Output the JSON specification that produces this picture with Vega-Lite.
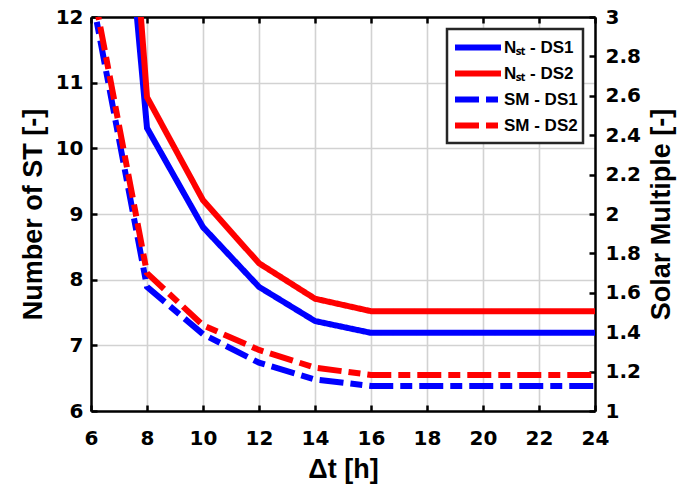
{
  "$schema": "https://vega.github.io/schema/vega-lite/v6.json",
  "width": 504,
  "height": 394,
  "autosize": "none",
  "padding": {"left": 91, "top": 17, "right": 84, "bottom": 76},
  "background": "white",
  "data": {
    "values": [
      {"t": 6, "kind": "N", "series": "Nₛₜ - DS1", "v": 19.7},
      {"t": 8, "kind": "N", "series": "Nₛₜ - DS1", "v": 10.31},
      {"t": 10, "kind": "N", "series": "Nₛₜ - DS1", "v": 8.8},
      {"t": 12, "kind": "N", "series": "Nₛₜ - DS1", "v": 7.89},
      {"t": 14, "kind": "N", "series": "Nₛₜ - DS1", "v": 7.37},
      {"t": 16, "kind": "N", "series": "Nₛₜ - DS1", "v": 7.19},
      {"t": 18, "kind": "N", "series": "Nₛₜ - DS1", "v": 7.19},
      {"t": 20, "kind": "N", "series": "Nₛₜ - DS1", "v": 7.19},
      {"t": 22, "kind": "N", "series": "Nₛₜ - DS1", "v": 7.19},
      {"t": 24, "kind": "N", "series": "Nₛₜ - DS1", "v": 7.19},
      {"t": 6, "kind": "N", "series": "Nₛₜ - DS2", "v": 22.0},
      {"t": 8, "kind": "N", "series": "Nₛₜ - DS2", "v": 10.78},
      {"t": 10, "kind": "N", "series": "Nₛₜ - DS2", "v": 9.21},
      {"t": 12, "kind": "N", "series": "Nₛₜ - DS2", "v": 8.25},
      {"t": 14, "kind": "N", "series": "Nₛₜ - DS2", "v": 7.71},
      {"t": 16, "kind": "N", "series": "Nₛₜ - DS2", "v": 7.52},
      {"t": 18, "kind": "N", "series": "Nₛₜ - DS2", "v": 7.52},
      {"t": 20, "kind": "N", "series": "Nₛₜ - DS2", "v": 7.52},
      {"t": 22, "kind": "N", "series": "Nₛₜ - DS2", "v": 7.52},
      {"t": 24, "kind": "N", "series": "Nₛₜ - DS2", "v": 7.52},
      {"t": 6, "kind": "SM", "series": "SM - DS1", "v": 3.13},
      {"t": 8, "kind": "SM", "series": "SM - DS1", "v": 1.63},
      {"t": 10, "kind": "SM", "series": "SM - DS1", "v": 1.39},
      {"t": 12, "kind": "SM", "series": "SM - DS1", "v": 1.245},
      {"t": 14, "kind": "SM", "series": "SM - DS1", "v": 1.16},
      {"t": 16, "kind": "SM", "series": "SM - DS1", "v": 1.127},
      {"t": 18, "kind": "SM", "series": "SM - DS1", "v": 1.127},
      {"t": 20, "kind": "SM", "series": "SM - DS1", "v": 1.127},
      {"t": 22, "kind": "SM", "series": "SM - DS1", "v": 1.127},
      {"t": 24, "kind": "SM", "series": "SM - DS1", "v": 1.127},
      {"t": 6, "kind": "SM", "series": "SM - DS2", "v": 3.2},
      {"t": 8, "kind": "SM", "series": "SM - DS2", "v": 1.70},
      {"t": 10, "kind": "SM", "series": "SM - DS2", "v": 1.435},
      {"t": 12, "kind": "SM", "series": "SM - DS2", "v": 1.31},
      {"t": 14, "kind": "SM", "series": "SM - DS2", "v": 1.22},
      {"t": 16, "kind": "SM", "series": "SM - DS2", "v": 1.183},
      {"t": 18, "kind": "SM", "series": "SM - DS2", "v": 1.183},
      {"t": 20, "kind": "SM", "series": "SM - DS2", "v": 1.183},
      {"t": 22, "kind": "SM", "series": "SM - DS2", "v": 1.183},
      {"t": 24, "kind": "SM", "series": "SM - DS2", "v": 1.183}
    ]
  },
  "layer": [
    {
      "transform": [{"filter": "datum.kind === 'N'"}],
      "mark": {"type": "line", "clip": true, "strokeWidth": 6},
      "encoding": {
        "x": {
          "field": "t", "type": "quantitative",
          "scale": {"domain": [6, 24], "nice": false, "zero": false},
          "axis": {"orient": "bottom", "values": [6, 8, 10, 12, 14, 16, 18, 20, 22, 24], "title": "Δt [h]", "grid": true, "labelPadding": 23, "titlePadding": 8}
        },
        "y": {
          "field": "v", "type": "quantitative",
          "scale": {"domain": [6, 12], "nice": false, "zero": false},
          "axis": {"orient": "left", "values": [6, 7, 8, 9, 10, 11, 12], "title": "Number of ST [-]", "grid": true, "labelPadding": 14, "titlePadding": 8}
        },
        "color": {
          "field": "series", "type": "nominal",
          "scale": {"domain": ["Nₛₜ - DS1", "Nₛₜ - DS2", "SM - DS1", "SM - DS2"], "range": ["#0000ff", "#ff0000", "#0000ff", "#ff0000"]}
        },
        "strokeDash": {
          "field": "series", "type": "nominal",
          "scale": {"domain": ["Nₛₜ - DS1", "Nₛₜ - DS2", "SM - DS1", "SM - DS2"], "range": [[1, 0], [1, 0], [24, 7, 12, 7], [24, 7, 12, 7]]}
        }
      }
    },
    {
      "transform": [{"filter": "datum.kind === 'SM'"}],
      "mark": {"type": "line", "clip": true, "strokeWidth": 6},
      "encoding": {
        "x": {
          "field": "t", "type": "quantitative",
          "scale": {"domain": [6, 24], "nice": false, "zero": false},
          "axis": {"orient": "top", "values": [6, 8, 10, 12, 14, 16, 18, 20, 22, 24], "title": null, "labels": false, "grid": false}
        },
        "y": {
          "field": "v", "type": "quantitative",
          "scale": {"domain": [1, 3], "nice": false, "zero": false},
          "axis": {"orient": "right", "values": [1, 1.2, 1.4, 1.6, 1.8, 2, 2.2, 2.4, 2.6, 2.8, 3], "format": "~g", "title": "Solar Multiple [-]", "grid": false, "labelPadding": 16, "titlePadding": 8, "titleAngle": -90, "titleBaseline": "top"}
        },
        "color": {
          "field": "series", "type": "nominal",
          "scale": {"domain": ["Nₛₜ - DS1", "Nₛₜ - DS2", "SM - DS1", "SM - DS2"], "range": ["#0000ff", "#ff0000", "#0000ff", "#ff0000"]}
        },
        "strokeDash": {
          "field": "series", "type": "nominal",
          "scale": {"domain": ["Nₛₜ - DS1", "Nₛₜ - DS2", "SM - DS1", "SM - DS2"], "range": [[1, 0], [1, 0], [24, 7, 12, 7], [24, 7, 12, 7]]}
        }
      }
    }
  ],
  "resolve": {"scale": {"x": "independent", "y": "independent"}},
  "config": {
    "view": {"stroke": null},
    "axis": {
      "labelFont": "DejaVu Sans", "labelFontWeight": "bold", "labelFontSize": 20, "labelColor": "black",
      "titleFont": "Liberation Sans", "titleFontWeight": "bold", "titleFontSize": 27, "titleColor": "black",
      "domainColor": "black", "domainWidth": 2.5,
      "tickColor": "black", "tickWidth": 2.5, "tickSize": -6,
      "gridColor": "#d2d2d2", "gridWidth": 1.6, "gridOpacity": 1,
      "labelFlush": false, "labelOverlap": false
    },
    "legend": {
      "orient": "top-right", "offset": 12, "title": null,
      "padding": 5, "rowPadding": 0,
      "strokeColor": "#262626", "strokeWidth": 2.5, "fillColor": "white",
      "labelFont": "Liberation Sans", "labelFontSize": 17, "labelFontWeight": "bold", "labelColor": "black", "labelLimit": 300,
      "symbolType": "M-1,0H3.38", "symbolSize": 441, "symbolStrokeWidth": 6, "labelOffset": 25
    }
  }
}
